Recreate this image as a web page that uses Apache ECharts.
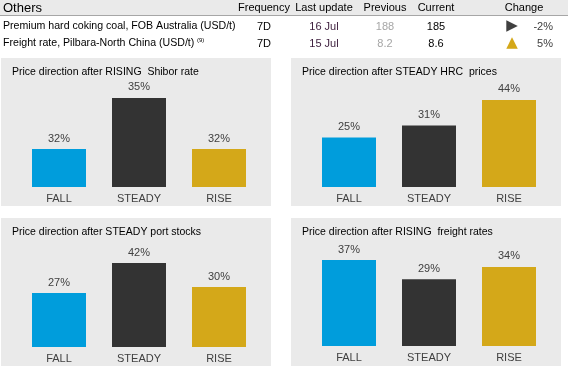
<!DOCTYPE html>
<html>
<head>
<meta charset="utf-8">
<script src="https://cdn.jsdelivr.net/npm/echarts@6/dist/echarts.min.js"></script>
<style>
  html, body { margin: 0; padding: 0; background: #fff; }
  #main { width: 568px; height: 377px; }
</style>
</head>
<body>
<div id="main"></div>
<script>
// table on top
var tableHeaders = ['Others', 'Frequency', 'Last update', 'Previous', 'Current', 'Change'];
var tableNames = ['Premium hard coking coal, FOB Australia (USD/t)', 'Freight rate, Pilbara-North China (USD/t)'];
var tableFreq = ['7D', '7D'];
var tableUpdated = ['16 Jul', '15 Jul'];
var tablePrevious = ['188', '8.2'];
var tableCurrent = ['185', '8.6'];
var tableChange = ['-2%', '5%'];
var tableArrow = ['\u25B6', '\u25B2'];

// bar panels
var categories = ['FALL', 'STEADY', 'RISE'];
var panelTitles = [
    'Price direction after RISING  Shibor rate',
    'Price direction after STEADY HRC  prices',
    'Price direction after STEADY port stocks',
    'Price direction after RISING  freight rates'
];
var shiborValues = [32.3, 35.4, 32.3];
var hrcValues = [25, 31, 44];
var portValues = [27, 42, 30];
var freightValues = [37, 28.7, 34];

var barColors = ['#009ddc', '#333333', '#d4a819'];
var font = "'Liberation Sans', Arial, sans-serif";

var dom = document.getElementById('main');
var myChart = echarts.init(dom);

// panel boxes: [x, y, w, h], grid: [left, top, height], axis range
var panels = [
    {box: [1, 58, 270, 148], grid: [19, 88, 99], min: 30, max: 36, data: shiborValues},
    {box: [291, 58, 270, 148], grid: [309, 88, 99], min: 0, max: 50, data: hrcValues},
    {box: [1, 218, 270, 148], grid: [19, 247, 100], min: 0, max: 50, data: portValues},
    {box: [291, 218, 270, 148], grid: [309, 253, 93], min: 0, max: 40, data: freightValues}
];

var graphics = [];
// header band
graphics.push({type: 'rect', shape: {x: 0, y: 0, width: 568, height: 15}, style: {fill: '#eaeaea'}, z: -1});
graphics.push({type: 'line', shape: {x1: 0, y1: 15.5, x2: 568, y2: 15.5}, style: {stroke: '#a6a6a6', lineWidth: 1}, z: -1});

var colX = [3, 264, 324, 385, 436, 524];
tableHeaders.forEach(function (h, i) {
    graphics.push({
        type: 'text', x: colX[i], y: 8,
        style: {text: h, fill: '#000', font: (i === 0 ? '13px ' : '11px ') + font,
            textAlign: i === 0 ? 'left' : 'center', textVerticalAlign: 'middle'}
    });
});

var rowY = [26.5, 43.5];
tableNames.forEach(function (name, r) {
    var y = rowY[r];
    var cells = [
        {t: name, x: 3, a: 'left', c: '#000', s: 10.6},
        {t: tableFreq[r], x: 264, a: 'center', c: '#000', s: 11},
        {t: tableUpdated[r], x: 324, a: 'center', c: '#3b1c3b', s: 11},
        {t: tablePrevious[r], x: 385, a: 'center', c: '#a6a6a6', s: 11},
        {t: tableCurrent[r], x: 436, a: 'center', c: '#000', s: 11},
        {t: tableChange[r], x: 553, a: 'right', c: '#404040', s: 11}
    ];
    cells.forEach(function (c) {
        graphics.push({
            type: 'text', x: c.x, y: y,
            style: {text: c.t, fill: c.c, font: c.s + 'px ' + font, textAlign: c.a, textVerticalAlign: 'middle'}
        });
    });
    graphics.push({
        type: 'text', x: 512, y: y,
        style: {text: tableArrow[r], fill: r === 0 ? '#404040' : '#d4a819',
            font: '15px "DejaVu Sans"', textAlign: 'center', textVerticalAlign: 'middle'}
    });
});
graphics.push({
    type: 'text', x: 197, y: 40,
    style: {text: '(9)', fill: '#000', font: '6px ' + font, textAlign: 'left', textVerticalAlign: 'middle'}
});

var titles = [], grids = [], xAxes = [], yAxes = [], series = [];
panels.forEach(function (p, i) {
    graphics.push({
        type: 'rect', shape: {x: p.box[0], y: p.box[1], width: p.box[2], height: p.box[3]},
        style: {fill: '#eaeaea'}, z: -1
    });
    titles.push({
        text: panelTitles[i], left: p.box[0] + 11, top: p.box[1] + 9, padding: 0,
        textStyle: {fontSize: 10.5, fontWeight: 'normal', color: '#000', fontFamily: font}
    });
    grids.push({left: p.grid[0], top: p.grid[1], width: 240, height: p.grid[2]});
    xAxes.push({
        type: 'category', gridIndex: i, data: categories,
        axisLine: {show: false}, axisTick: {show: false},
        axisLabel: {color: '#404040', fontSize: 11, fontFamily: font, margin: 6}
    });
    yAxes.push({type: 'value', gridIndex: i, min: p.min, max: p.max, show: false, splitLine: {show: false}});
    series.push({
        type: 'bar', xAxisIndex: i, yAxisIndex: i, barWidth: 54,
        data: p.data.map(function (v, k) {
            return {value: v, itemStyle: {color: barColors[k]}};
        }),
        label: {
            show: true, position: 'top', distance: 5,
            color: '#404040', fontSize: 11, fontFamily: font,
            formatter: function (d) { return Math.round(d.value) + '%'; }
        },
        silent: true
    });
});

var option = {
    animation: false,
    backgroundColor: '#fff',
    title: titles,
    grid: grids,
    xAxis: xAxes,
    yAxis: yAxes,
    series: series,
    graphic: graphics
};
myChart.setOption(option, true);
</script>
</body>
</html>
